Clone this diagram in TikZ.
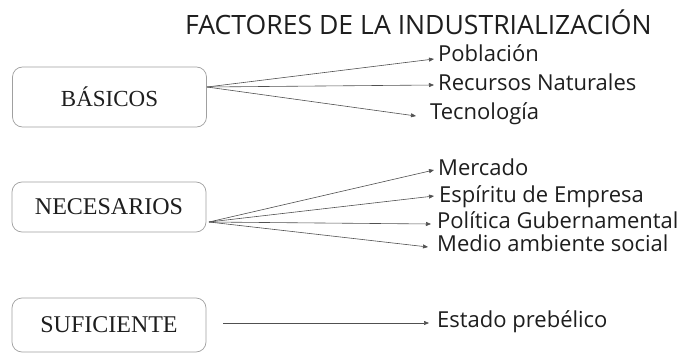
\documentclass[tikz,border=0pt]{standalone}
\usepackage{fontspec}
\setmainfont{Liberation Serif}
\newfontfamily\labfont{Open Sans}
\usetikzlibrary{arrows.meta}
\definecolor{boxgray}{RGB}{160,160,160}
\definecolor{inkgray}{RGB}{30,30,30}
\definecolor{linegray}{RGB}{80,80,80}
\begin{document}
\begin{tikzpicture}[x=1pt,y=-1pt,
  catbox/.style={draw=boxgray, line width=0.7pt, rounded corners=10pt, minimum width=194pt, inner sep=0pt, text=inkgray, font=\fontsize{24}{26}\selectfont},
  lab/.style={anchor=base west, inner sep=0pt, text=inkgray, font=\labfont\fontsize{22}{24}\selectfont},
  conn/.style={draw=linegray, line width=0.6pt, -{Triangle[length=5pt,width=4pt]}}]
\useasboundingbox (0,0) rectangle (688,353);
\fill[white] (0,0) rectangle (688,353);
\node[anchor=base west, inner sep=0pt, text=inkgray, font=\labfont\fontsize{26.6}{28}\selectfont] (title) at (185,35) {FACTORES DE LA INDUSTRIALIZACIÓN};
\node[catbox, minimum height=60pt, font=\fontsize{23}{25}\selectfont] (bas) at (109.5,97) {BÁSICOS};
\node[catbox, minimum height=50pt] (nec) at (109,207) {NECESARIOS};
\node[catbox, minimum height=54pt] (suf) at (109,325) {SUFICIENTE};
\node[lab] (pob) at (438,62) {Población};
\node[lab] (rec) at (438,90) {Recursos Naturales};
\node[lab] (tec) at (430,119) {Tecnología};
\node[lab] (mer) at (438,175) {Mercado};
\node[lab] (esp) at (439,202) {Espíritu de Empresa};
\node[lab] (pol) at (437,228) {Política Gubernamental};
\node[lab] (med) at (437,251) {Medio ambiente social};
\node[lab] (est) at (437,327) {Estado prebélico};
\coordinate (bo) at (207,87);
\coordinate (no) at (209,222);
\coordinate (so) at (223,323);
\coordinate (tpob) at (434,59);
\coordinate (trec) at (434,85);
\coordinate (ttec) at (416,116);
\coordinate (tmer) at (434,170);
\coordinate (tesp) at (434,196);
\coordinate (tpol) at (431,224);
\coordinate (tmed) at (428,247);
\coordinate (test) at (429,323);
\draw[conn] (bo) -- (tpob);
\draw[conn] (bo) -- (trec);
\draw[conn] (bo) -- (ttec);
\draw[conn] (no) -- (tmer);
\draw[conn] (no) -- (tesp);
\draw[conn] (no) -- (tpol);
\draw[conn] (no) -- (tmed);
\draw[conn] (so) -- (test);
\end{tikzpicture}
\end{document}
